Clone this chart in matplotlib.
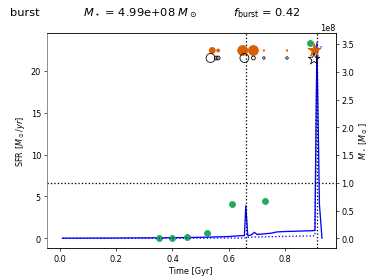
import numpy as np
import matplotlib
matplotlib.use('Agg')
import matplotlib.pyplot as plt

# star formation history (Msun/yr) against time (Gyr)
t_sfr = [0.01, 0.10, 0.20, 0.30, 0.40, 0.50, 0.60, 0.64, 0.655, 0.660, 0.667,
         0.68, 0.69, 0.70, 0.72, 0.75, 0.77, 0.80, 0.85, 0.90, 0.905, 0.912,
         0.921, 0.930]
sfr = [0.0, 0.01, 0.02, 0.04, 0.06, 0.10, 0.20, 0.30, 0.30, 3.9, 0.30,
       0.40, 0.70, 0.45, 0.50, 0.60, 0.75, 0.80, 0.85, 0.90, 0.95, 23.4,
       4.0, 0.0]

# stellar mass growth (1e8 Msun)
t_mass = [0.01, 0.30, 0.60, 0.655, 0.665, 0.70, 0.80, 0.90, 0.905, 0.912, 0.920, 0.930]
mass = [0.0, 0.0, 0.005, 0.005, 0.02, 0.025, 0.035, 0.045, 0.05, 3.30, 3.45, 3.45]

# green snapshot points (SFR)
t_snap = [0.351, 0.398, 0.453, 0.522, 0.612, 0.728, 0.886]
sfr_snap = [0.0, 0.0, 0.1, 0.6, 4.1, 4.5, 23.4]

# merger markers along the top (1e8 Msun positions)
t_orange = [0.541, 0.562, 0.649, 0.687, 0.724, 0.806]
s_orange = [55, 14, 150, 150, 3, 3]
t_black = [0.535, 0.555, 0.562, 0.655, 0.687, 0.724, 0.806]
s_black = [120, 22, 22, 120, 22, 9, 9]
t_star = 0.902

t_events = [0.66, 0.912]
mass_thresh = 1.0

green = '#25a85e'
orange = '#d95f02'

fig, ax = plt.subplots(figsize=(6.4, 4.8), dpi=58.3)
ax2 = ax.twinx()

ax.plot(t_sfr, sfr, color='b', lw=1.6)
ax.scatter(t_snap, sfr_snap, s=55, color=green, zorder=3)
for t in t_events:
    ax.axvline(t, color='k', ls=':', lw=1.6)

ax2.plot(t_mass, np.array(mass) * 1e8, color='b', ls=':', lw=1.6)
ax2.axhline(mass_thresh * 1e8, color='k', ls=':', lw=1.6)
ax2.scatter(t_orange, [3.385e8] * len(t_orange), s=s_orange, color=orange, zorder=3)
ax2.scatter(t_black, [3.25e8] * len(t_black), s=s_black, facecolors='none',
            edgecolors='k', lw=1, zorder=3)
ax2.scatter([t_star], [3.385e8], s=280, marker='*', color=orange, zorder=3)
ax2.scatter([t_star], [3.23e8], s=220, marker='*', facecolors='none',
            edgecolors='k', lw=1, zorder=3)

ax.set_xlim(-0.046, 0.979)
ax.set_ylim(-1.2, 24.6)
ax2.set_ylim(-0.178e8, 3.705e8)

ax.set_xlabel('Time [Gyr]')
ax.set_ylabel(r'SFR [$M_\odot/yr$]')
ax2.set_ylabel(r'$M_\star$ [$M_\odot$]')
ax.spines['left'].set_color('gray')
ax2.spines['left'].set_color('gray')

fig.text(0.027, 0.943, 'burst', fontsize=14)
fig.text(0.223, 0.943, r'$M_\star$ = 4.99e+08 $M_\odot$', fontsize=14)
fig.text(0.625, 0.943, r'$f_{\rm burst}$ = 0.42', fontsize=14)

fig.savefig('out.png', dpi=58.3)
